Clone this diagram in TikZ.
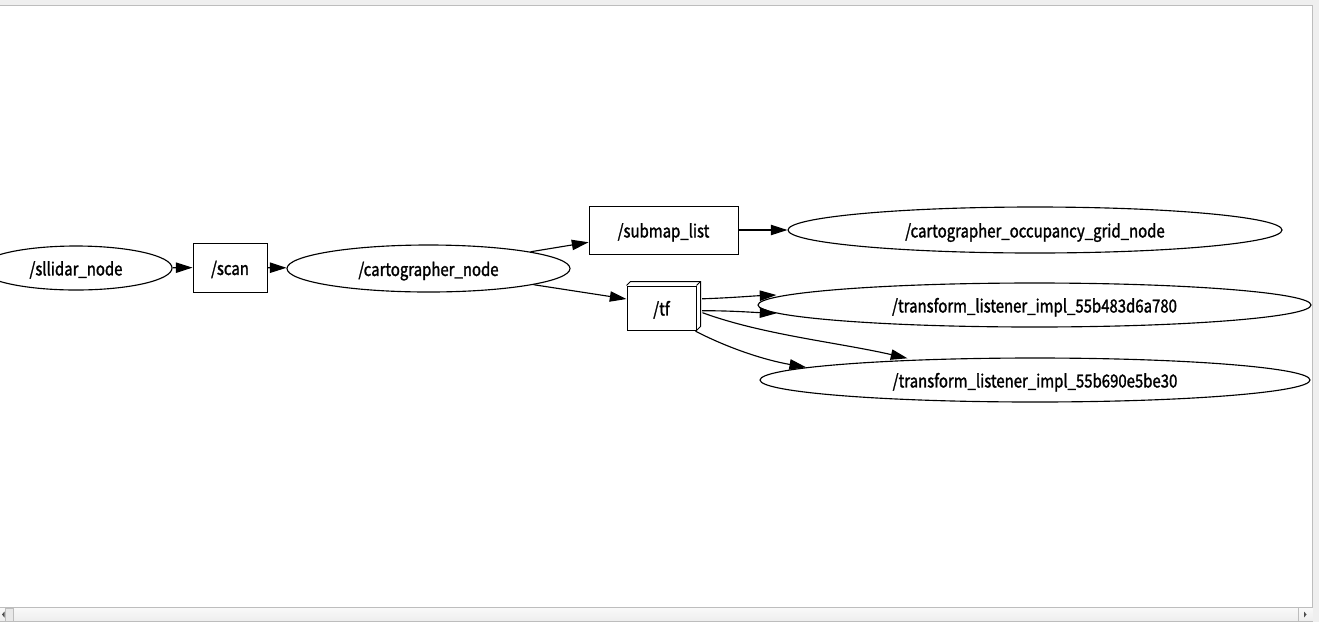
\documentclass[tikz,border=0pt]{standalone}
\usepackage{fontspec}
\setmainfont{Noto Sans CJK SC}
\newfontfamily\lblfont{Noto Sans CJK SC}[FakeStretch=0.83, FakeBold=1.5]
\usetikzlibrary{shapes.geometric,arrows.meta}
\definecolor{bggray}{HTML}{EFEFEF}
\definecolor{framegray}{HTML}{BDBDBD}
\definecolor{sbtop}{HTML}{F9F9F9}
\definecolor{sbbot}{HTML}{EDEDED}
\begin{document}
\begin{tikzpicture}[x=0.75pt,y=-0.75pt,
  every node/.style={font=\lblfont\fontsize{13.5}{15}\selectfont, text=black, text height=11.2pt, text depth=0pt},
  ell/.style={ellipse, draw, line width=0.85pt, inner sep=0pt},
  topic/.style={rectangle, draw, line width=0.75pt, inner sep=0pt},
  edge/.style={line width=0.85pt, -{Triangle[length=12.5pt,width=7.8pt]}},
  frame/.style={draw=framegray, line width=0.75pt},
]
\useasboundingbox (0,0) rectangle (1319,622);
% window background and canvas
\fill[bggray] (0,0) rectangle (1319,622);
\fill[white] (0,6) rectangle (1312,607);
\draw[frame] (0,5.5) -- (1312.5,5.5) -- (1312.5,607);
% horizontal scrollbar
\shade[top color=sbtop, bottom color=sbbot] (0,607.5) rectangle (1312.5,621.5);
\draw[frame] (0,607.5) -- (1312.5,607.5);
\draw[frame] (0,621.5) -- (1312.5,621.5);
\filldraw[fill=gray!18, draw=framegray, line width=0.6pt] (5.5,608) rectangle (13.5,621);
\draw[frame] (1298.5,608) -- (1298.5,621);
\fill[gray!60!black] (2,614.5) -- (4.5,611.5) -- (4.5,617.5) -- cycle;
\fill[gray!60!black] (1306.5,614.5) -- (1304,611.5) -- (1304,617.5) -- cycle;

\begin{scope}
\clip (0,6) rectangle (1312,607);
% nodes
\node[ell, minimum width=144pt, minimum height=33pt] (sll) at (76,268) {/sllidar\_node};
\node[topic, minimum width=55.5pt, minimum height=36.75pt] (scan) at (230,267.5) {/scan};
\node[ell, minimum width=212.25pt, minimum height=35.25pt] (cart) at (428.5,268.5) {/cartographer\_node};
\node[topic, minimum width=111.75pt, minimum height=36pt] (submap) at (663.5,230) {/submap\_list};
\node[ell, minimum width=370.5pt, minimum height=34.5pt] (occ) at (1035,230) {/cartographer\_occupancy\_grid\_node};
\node[topic, minimum width=51.75pt, minimum height=33pt] (tf) at (661.5,308) {/tf};
\draw[line width=0.75pt, line join=miter] (tf.north west) -- ++(4,-4) -- ([shift={(4,-4)}]tf.north east) -- ([shift={(4,-4)}]tf.south east) -- (tf.south east);
\draw[line width=0.75pt] (tf.north east) -- ++(4,-4);
\node[ell, minimum width=414.75pt, minimum height=33pt] (L1) at (1034.5,305) {/transform\_listener\_impl\_55b483d6a780};
\node[ell, minimum width=412.5pt, minimum height=33pt] (L2) at (1035,380) {/transform\_listener\_impl\_55b690e5be30};

% connectors
\draw[edge] (sll) -- (scan);
\draw[edge] (scan) -- (cart);
\draw[edge] (cart) -- (submap);
\draw[edge] (cart) -- ([shift={(0,-9)}]tf.west);
\draw[edge] (submap) -- (occ);
\draw[edge] ([shift={(5.7,13.3)}]tf.north east) .. controls +(30,-1) and +(-25,1) .. ([shift={(19,-10)}]L1.west);
\draw[edge] ([shift={(5.7,2.7)}]tf.east) .. controls +(30,0) and +(-25,-1) .. ([shift={(19,8.3)}]L1.west);
\draw[edge] ([shift={(6,4.7)}]tf.east) .. controls +(60,22) and +(-70,-16) .. ([shift={(148,-21.7)}]L2.west);
\draw[edge] ([shift={(-1,0.7)}]tf.south east) .. controls +(35,18) and +(-40,-7) .. ([shift={(46.7,-12.7)}]L2.west);
\end{scope}
\end{tikzpicture}
\end{document}
